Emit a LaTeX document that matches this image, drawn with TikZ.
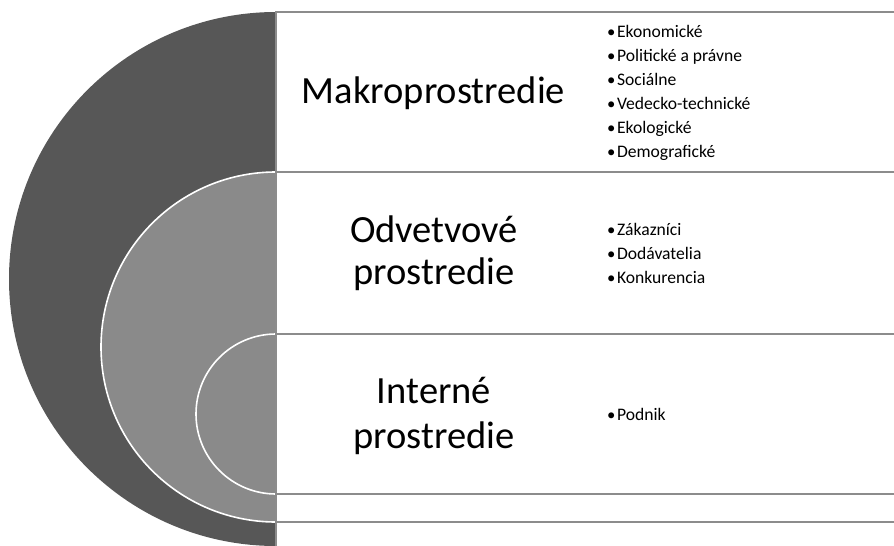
\documentclass[tikz,border=0pt]{standalone}
\usepackage{fontspec}
\setmainfont{Carlito}
\definecolor{darkfill}{RGB}{87,87,87}
\definecolor{midfill}{RGB}{138,138,138}
\definecolor{boxline}{RGB}{140,140,140}
\newcommand{\bul}{\scalebox{0.95}{•}\kern1.5pt}
\begin{document}
\begin{tikzpicture}[x=1pt,y=-1pt,
  boxstyle/.style={fill=white,draw=boxline,line width=2pt},
  ring/.style={draw=white,line width=1.6pt},
  titletext/.style={font=\fontsize{38.5}{44}\selectfont,anchor=base,inner sep=0pt},
  itemtext/.style={font=\fontsize{17.6}{24}\selectfont,anchor=base west,inner sep=0pt}]
\useasboundingbox (0,0) rectangle (894,546);
\clip (0,0) rectangle (894,546);
% nested circles
\fill[darkfill] (276,279) circle[radius=267];
\filldraw[fill=midfill,ring] (276,347) circle[radius=175];
\filldraw[fill=midfill,ring] (276,414) circle[radius=80];
% boxes
\draw[boxstyle] (276,12) rectangle (900,547);
\draw[boxstyle] (276,172) rectangle (900,522);
\draw[boxstyle] (276,334) rectangle (900,494);
% titles
\node[titletext] (t1) at (433.5,103) {Makroprostredie};
\node[titletext] (t2a) at (434,242) {Odvetvové};
\node[titletext] (t2b) at (434,284) {prostredie};
\node[titletext] (t3a) at (434,403) {Interné};
\node[titletext] (t3b) at (434,448) {prostredie};
% lists
\node[itemtext] (m1) at (607,37) {\bul Ekonomické};
\node[itemtext] (m2) at (607,61) {\bul Politické a právne};
\node[itemtext] (m3) at (607,85) {\bul Sociálne};
\node[itemtext] (m4) at (607,109) {\bul Vedecko-technické};
\node[itemtext] (m5) at (607,133) {\bul Ekologické};
\node[itemtext] (m6) at (607,157) {\bul Demografické};
\node[itemtext] (o1) at (607,235) {\bul Zákazníci};
\node[itemtext] (o2) at (607,259) {\bul Dodávatelia};
\node[itemtext] (o3) at (607,283) {\bul Konkurencia};
\node[itemtext] (i1) at (607,420) {\bul Podnik};
\end{tikzpicture}
\end{document}
